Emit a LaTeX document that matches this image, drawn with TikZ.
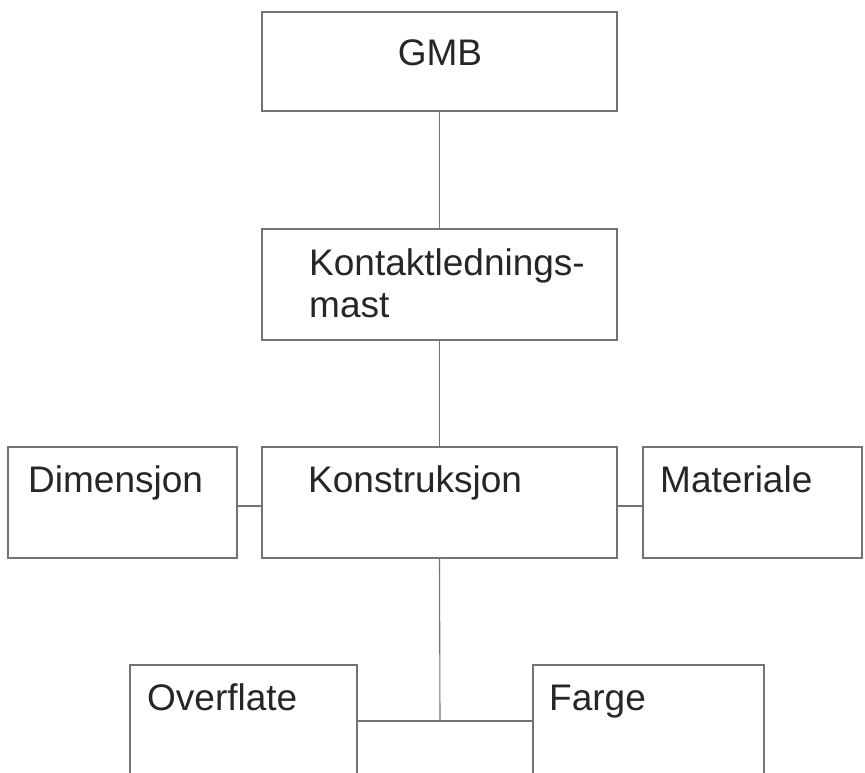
\documentclass[tikz,border=0pt]{standalone}
\usepackage{fontspec}
\setmainfont{Liberation Sans}
\usepackage{tikz}
\tikzstyle{box} = [draw=black!55, line width=1.2pt, rectangle, inner sep=0pt]
\tikzstyle{txt} = [text=black!85, inner sep=0pt, font={\fontsize{37}{42}\selectfont}]
\tikzstyle{link} = [draw=black!55, line width=1.1pt]

\begin{document}
\begin{tikzpicture}[x=1pt,y=-1pt]
        \useasboundingbox (0,0) rectangle (865,772);
        \clip (0,0) rectangle (865,772);
        \node[box,minimum width=355,minimum height=99](gmb) at (439.5,61.5){};
        \node[box,minimum width=355,minimum height=111](mast) at (439.5,284.5){};
        \node[box,minimum width=229,minimum height=111](dim) at (122.5,502.5){};
        \node[box,minimum width=355,minimum height=111](konstr) at (439.5,502.5){};
        \node[box,minimum width=219,minimum height=111](mat) at (752.5,502.5){};
        \node[box,minimum width=227,minimum height=130](overfl) at (243.5,730){};
        \node[box,minimum width=231,minimum height=130](farge) at (648.5,730){};
        \node[txt,anchor=base](gmbtxt) at (440,65){GMB};
        \node[txt,anchor=base west](masttxt) at (309,275){Kontaktlednings-};
        \node[txt,anchor=base west](masttxtb) at (309,317){mast};
        \node[txt,anchor=base west](dimtxt) at (28,492){Dimensjon};
        \node[txt,anchor=base west](konstrtxt) at (308,492){Konstruksjon};
        \node[txt,anchor=base west](mattxt) at (660,492){Materiale};
        \node[txt,anchor=base west](overfltxt) at (147,710){Overflate};
        \node[txt,anchor=base west](fargetxt) at (549,710){Farge};
        \coordinate (split) at (440,721);
        \draw[link](gmb)--(mast);
        \draw[link](mast)--(konstr);
        \draw[link](dim.east|-0,506)--(konstr.west|-0,506);
        \draw[link](konstr.east|-0,506)--(mat.west|-0,506);
        \draw[link](konstr.south)--(split);
        \draw[link](overfl.east|-split)--(farge.west|-split);
      \end{tikzpicture}
\end{document}
